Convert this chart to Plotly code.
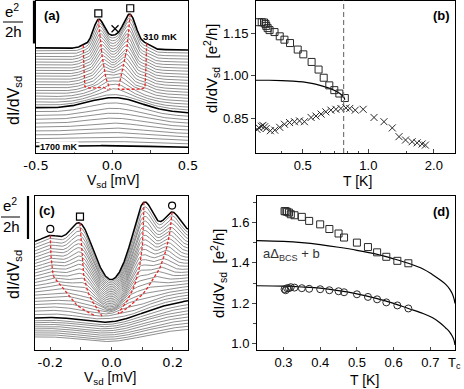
import numpy as np
import plotly.graph_objects as go

W, H = 464, 389

# ======================= Panel (a): waterfall, Vsd [mV] =======================
# one value per curve, top (310 mK) -> bottom (1700 mK); y in units of e^2/2h
A_OFFSET = [2.42, 2.352, 2.284, 2.216, 2.148, 2.08, 2.012, 1.944, 1.876, 1.808,
            1.74, 1.672, 1.604, 1.536, 1.468, 1.40, 1.332, 1.264, 1.196, 1.128,
            1.06, 0.992, 0.907, 0.822, 0.737, 0.652, 0.567, 0.482, 0.397, 0.312,
            0.227, 0.142]
A_SLOPE = [-0.05, -0.05, -0.06, -0.06, -0.07, -0.07, -0.08, -0.08, -0.09, -0.09,
           -0.10, -0.10, -0.10, -0.11, -0.11, -0.11, -0.12, -0.12, -0.12, -0.12,
           -0.12, -0.12, -0.11, -0.10, -0.09, -0.08, -0.07, -0.06, -0.05, -0.04,
           -0.03, -0.02]
A_BUMP = [0.30, 0.30, 0.30, 0.30, 0.30, 0.30, 0.30, 0.30, 0.30, 0.30,
          0.30, 0.30, 0.30, 0.30, 0.30, 0.30, 0.30, 0.30, 0.30, 0.30,
          0.30, 0.30, 0.26, 0.22, 0.19, 0.16, 0.13, 0.10, 0.08, 0.06,
          0.04, 0.03]
A_BUMP_W = [0.10, 0.10, 0.105, 0.105, 0.11, 0.11, 0.115, 0.115, 0.12, 0.12,
            0.125, 0.125, 0.13, 0.13, 0.135, 0.135, 0.14, 0.14, 0.145, 0.15,
            0.16, 0.17, 0.17, 0.17, 0.18, 0.18, 0.18, 0.19, 0.19, 0.20,
            0.20, 0.20]
A_BUMP_V = 0.02
# gap features of the 20 lowest-temperature curves (red dashed lines follow them)
A_PEAK_L = [-0.090, -0.088, -0.085, -0.083, -0.080, -0.078, -0.075, -0.073, -0.070, -0.068,
            -0.065, -0.061, -0.058, -0.054, -0.050, -0.046, -0.040, -0.032, -0.023, -0.013]
A_PEAK_R = [0.120, 0.118, 0.115, 0.112, 0.110, 0.108, 0.105, 0.102, 0.100, 0.097,
            0.092, 0.087, 0.082, 0.077, 0.071, 0.064, 0.059, 0.053, 0.047, 0.041]
A_SHLD_L = [-0.189, -0.189, -0.188, -0.188, -0.187, -0.187, -0.186, -0.185, -0.185, -0.184,
            -0.183, -0.182, -0.181, -0.180, -0.179, -0.178, -0.150, -0.100, -0.055, -0.024]
A_SHLD_R = [0.228, 0.228, 0.227, 0.227, 0.226, 0.226, 0.225, 0.224, 0.223, 0.222,
            0.221, 0.220, 0.219, 0.218, 0.218, 0.217, 0.190, 0.140, 0.097, 0.041]
A_AMP_L = [0.52, 0.50, 0.47, 0.45, 0.42, 0.40, 0.37, 0.35, 0.32, 0.30,
           0.27, 0.25, 0.22, 0.20, 0.17, 0.15, 0.12, 0.10, 0.07, 0.04]
A_AMP_R = [0.63, 0.60, 0.57, 0.54, 0.51, 0.48, 0.45, 0.42, 0.39, 0.36,
           0.33, 0.30, 0.27, 0.24, 0.21, 0.18, 0.15, 0.12, 0.09, 0.05]
A_AMP_SL = [0.04, 0.04, 0.04, 0.04, 0.04, 0.04, 0.035, 0.035, 0.03, 0.03,
            0.03, 0.025, 0.025, 0.02, 0.02, 0.02, 0.015, 0.01, 0.01, 0.0]
A_AMP_SR = [0.09, 0.09, 0.085, 0.085, 0.08, 0.08, 0.075, 0.075, 0.07, 0.07,
            0.065, 0.06, 0.055, 0.05, 0.045, 0.04, 0.03, 0.02, 0.01, 0.0]
A_BOLD = [0, 21, 31]
A_TICKS = [-0.5, 0.0, 0.5]

# ======================= Panel (b): dI/dV vs T (log) =======================
B_SQ_T = [0.315, 0.324, 0.332, 0.337, 0.340, 0.345, 0.352, 0.371, 0.392, 0.412,
          0.437, 0.474, 0.503, 0.549, 0.591, 0.624, 0.662, 0.698, 0.736, 0.780]
B_SQ_G = [1.190, 1.190, 1.189, 1.184, 1.177, 1.169, 1.162, 1.155, 1.140, 1.128,
          1.116, 1.093, 1.076, 1.049, 1.022, 0.993, 0.966, 0.949, 0.937, 0.921]
B_X_T = [0.308, 0.315, 0.323, 0.328, 0.334, 0.340, 0.355, 0.372, 0.392, 0.412,
         0.435, 0.458, 0.483, 0.509, 0.546, 0.575, 0.607, 0.638, 0.673, 0.710,
         0.748, 0.789, 0.822, 0.871, 0.947, 1.062, 1.180, 1.288, 1.383, 1.482,
         1.589, 1.675, 1.766, 1.828]
B_X_G = [0.810, 0.815, 0.821, 0.824, 0.819, 0.813, 0.805, 0.807, 0.817, 0.828,
         0.834, 0.837, 0.840, 0.837, 0.852, 0.857, 0.864, 0.872, 0.878, 0.881,
         0.884, 0.886, 0.884, 0.878, 0.881, 0.852, 0.837, 0.815, 0.784, 0.772,
         0.766, 0.762, 0.758, 0.754]
B_FIT_T = [0.305, 0.35, 0.40, 0.45, 0.50, 0.55, 0.60, 0.65, 0.70, 0.74, 0.77, 0.78]
B_FIT_G = [0.984, 0.984, 0.983, 0.981, 0.978, 0.973, 0.966, 0.958, 0.948, 0.937, 0.925, 0.915]
B_TC = 0.77
B_XTICKS = [0.5, 1.0, 2.0]
B_YTICKS = [0.85, 1.00, 1.15]

# ======================= Panel (c): waterfall, Vsd [mV] =======================
C_OFFSET = [2.635, 2.565, 2.495, 2.425, 2.355, 2.285, 2.215, 2.145, 2.075, 2.005,
            1.935, 1.865, 1.795, 1.725, 1.655, 1.585, 1.515, 1.445, 1.375, 1.305,
            1.235, 1.165, 1.095, 1.025, 0.957, 0.88, 0.82, 0.76, 0.70, 0.64,
            0.58, 0.52, 0.46, 0.40]
C_SLOPE = [0.50, 0.51, 0.52, 0.53, 0.54, 0.55, 0.56, 0.57, 0.58, 0.59,
           0.60, 0.61, 0.62, 0.63, 0.64, 0.65, 0.66, 0.67, 0.68, 0.69,
           0.70, 0.72, 0.74, 0.77, 0.80, 0.75, 0.70, 0.65, 0.60, 0.55,
           0.50, 0.45, 0.40, 0.35]
C_DIP = [1.00, 0.97, 0.94, 0.91, 0.88, 0.85, 0.82, 0.79, 0.76, 0.73,
         0.70, 0.67, 0.64, 0.61, 0.58, 0.55, 0.52, 0.49, 0.46, 0.43,
         0.40, 0.37, 0.34, 0.32, 0.30, 0.28, 0.27, 0.26, 0.25, 0.24,
         0.23, 0.22, 0.21, 0.20]
C_DIP_W = [0.045, 0.046, 0.047, 0.048, 0.049, 0.050, 0.051, 0.052, 0.053, 0.054,
           0.055, 0.057, 0.059, 0.061, 0.063, 0.065, 0.068, 0.071, 0.074, 0.077,
           0.080, 0.084, 0.088, 0.094, 0.10, 0.10, 0.10, 0.10, 0.10, 0.10,
           0.10, 0.10, 0.10, 0.10]
C_SQ_L = [-0.103, -0.102, -0.102, -0.101, -0.100, -0.100, -0.099, -0.098, -0.097, -0.096,
          -0.095, -0.093, -0.091, -0.088, -0.085, -0.080, -0.075, -0.068, -0.060, -0.051,
          -0.044, -0.037, -0.031, -0.027]
C_SQ_R = [0.106, 0.106, 0.105, 0.105, 0.104, 0.104, 0.103, 0.103, 0.102, 0.101,
          0.099, 0.097, 0.095, 0.092, 0.088, 0.083, 0.077, 0.070, 0.061, 0.051,
          0.041, 0.031, 0.021, 0.015]
C_CI_L = [-0.200, -0.200, -0.200, -0.199, -0.199, -0.198, -0.198, -0.197, -0.196, -0.195,
          -0.194, -0.193, -0.191, -0.186, -0.178, -0.168, -0.157, -0.145, -0.135, -0.124,
          -0.113, -0.085, -0.055, -0.040]
C_CI_R = [0.198, 0.197, 0.196, 0.195, 0.193, 0.191, 0.189, 0.187, 0.184, 0.181,
          0.178, 0.174, 0.170, 0.165, 0.159, 0.151, 0.141, 0.130, 0.118, 0.103,
          0.080, 0.055, 0.028, 0.020]
C_A_SQL = [0.44, 0.42, 0.40, 0.38, 0.36, 0.34, 0.33, 0.31, 0.29, 0.27,
           0.25, 0.23, 0.21, 0.19, 0.17, 0.15, 0.13, 0.11, 0.10, 0.08,
           0.06, 0.04, 0.02, 0.01]
C_A_SQR = [0.81, 0.77, 0.74, 0.70, 0.67, 0.63, 0.60, 0.56, 0.53, 0.49,
           0.46, 0.42, 0.39, 0.35, 0.32, 0.28, 0.25, 0.21, 0.18, 0.14,
           0.11, 0.07, 0.04, 0.02]
C_A_CIL = [0.13, 0.13, 0.12, 0.12, 0.11, 0.11, 0.10, 0.10, 0.09, 0.09,
           0.08, 0.08, 0.07, 0.07, 0.06, 0.06, 0.05, 0.04, 0.04, 0.03,
           0.03, 0.02, 0.01, 0.01]
C_A_CIR = [0.47, 0.45, 0.43, 0.41, 0.39, 0.37, 0.35, 0.33, 0.31, 0.29,
           0.27, 0.25, 0.22, 0.20, 0.18, 0.16, 0.14, 0.12, 0.10, 0.08,
           0.06, 0.04, 0.02, 0.01]
C_BOLD = [0, 24]
C_TICKS = [-0.2, 0.0, 0.2]
C_MINOR = [-0.1, 0.1]

# ======================= Panel (d): peak height vs T =======================
D_T = [0.303, 0.306, 0.310, 0.315, 0.320, 0.330, 0.350, 0.370, 0.400, 0.425,
       0.450, 0.465, 0.500, 0.530, 0.555, 0.580, 0.610, 0.640]
D_SQ = [1.655, 1.655, 1.652, 1.648, 1.640, 1.635, 1.627, 1.607, 1.590, 1.567,
        1.545, 1.525, 1.500, 1.478, 1.452, 1.430, 1.410, 1.398]
D_CI = [1.270, 1.265, 1.275, 1.275, 1.280, 1.278, 1.275, 1.272, 1.270, 1.265,
        1.260, 1.255, 1.245, 1.232, 1.220, 1.205, 1.190, 1.175]
D_FIT_T = [0.228, 0.30, 0.35, 0.40, 0.45, 0.50, 0.55, 0.60, 0.64, 0.68,
           0.705, 0.725, 0.741, 0.752, 0.759, 0.764, 0.767]
D_FIT_UP = [1.510, 1.506, 1.500, 1.490, 1.477, 1.462, 1.444, 1.420, 1.398, 1.370,
            1.343, 1.318, 1.295, 1.272, 1.250, 1.225, 1.200]
D_FIT_LO = [1.287, 1.285, 1.281, 1.275, 1.263, 1.247, 1.226, 1.200, 1.175, 1.150,
            1.130, 1.106, 1.080, 1.060, 1.040, 1.020, 0.995]
D_TC = 0.765
D_XTICKS = [0.3, 0.4, 0.5, 0.6, 0.7]
D_YTICKS = [1.0, 1.2, 1.4, 1.6]

# ----------------------------------------------------------------------------
def gauss(v, c, s):
    return np.exp(-(v - c) ** 2 / (2.0 * s * s))

VA = np.linspace(-0.5, 0.5, 401)
VC = np.linspace(-0.25, 0.25, 401)


def curve_a(i, v):
    y = A_OFFSET[i] + A_SLOPE[i] * v + A_BUMP[i] * gauss(v, A_BUMP_V, A_BUMP_W[i])
    if i < len(A_PEAK_L):
        y = (y + A_AMP_L[i] * gauss(v, A_PEAK_L[i], 0.035)
             + A_AMP_R[i] * gauss(v, A_PEAK_R[i], 0.04)
             + A_AMP_SL[i] * gauss(v, A_SHLD_L[i], 0.025)
             + A_AMP_SR[i] * gauss(v, A_SHLD_R[i], 0.03))
    return y


def curve_c(i, v):
    y = C_OFFSET[i] + C_SLOPE[i] * v - C_DIP[i] * gauss(v, 0.0, C_DIP_W[i])
    if i < len(C_SQ_L):
        y = (y + C_A_SQL[i] * gauss(v, C_SQ_L[i], 0.028)
             + C_A_SQR[i] * gauss(v, C_SQ_R[i], 0.028)
             + C_A_CIL[i] * gauss(v, C_CI_L[i], 0.025)
             + C_A_CIR[i] * gauss(v, C_CI_R[i], 0.025))
    return y


fig = go.Figure()
GRAY = "rgb(95,95,95)"
RED = "rgb(235,40,40)"

# ---- panel (a) curves
order = [i for i in range(len(A_OFFSET)) if i not in A_BOLD] + A_BOLD
for i in order:
    bold = i in A_BOLD
    fig.add_trace(go.Scatter(x=VA, y=curve_a(i, VA), mode="lines",
                             line=dict(color="black" if bold else GRAY, width=1.6 if bold else 0.7),
                             xaxis="x", yaxis="y", showlegend=False, hoverinfo="skip"))
for pos in (A_SHLD_L, A_PEAK_L, A_PEAK_R, A_SHLD_R):
    xs = np.array(pos)
    ys = [float(curve_a(k, np.array(pos[k]))) for k in range(len(pos))]
    fig.add_trace(go.Scatter(x=xs, y=ys, mode="lines", line=dict(color=RED, width=1.3, dash="3px,2px"),
                             xaxis="x", yaxis="y", showlegend=False, hoverinfo="skip"))
MK = 0.14
fig.add_trace(go.Scatter(x=[A_PEAK_L[0], A_PEAK_R[0]],
                         y=[float(curve_a(0, np.array(A_PEAK_L[0]))) + MK, float(curve_a(0, np.array(A_PEAK_R[0]))) + MK],
                         mode="markers", marker=dict(symbol="square-open", size=7, color="black", line=dict(width=1.2)),
                         xaxis="x", yaxis="y", showlegend=False))
fig.add_trace(go.Scatter(x=[A_BUMP_V], y=[float(curve_a(0, np.array(A_BUMP_V))) + MK],
                         mode="markers", marker=dict(symbol="x-thin-open", size=7, color="black", line=dict(width=1.2)),
                         xaxis="x", yaxis="y", showlegend=False))

# ---- panel (b)
fig.add_trace(go.Scatter(x=B_FIT_T, y=B_FIT_G, mode="lines", line=dict(color="black", width=1.2, shape="spline"),
                         xaxis="x2", yaxis="y2", showlegend=False))
fig.add_trace(go.Scatter(x=B_SQ_T, y=B_SQ_G, mode="markers",
                         marker=dict(symbol="square-open", size=7, color="rgb(40,40,40)", line=dict(width=1)),
                         xaxis="x2", yaxis="y2", showlegend=False))
fig.add_trace(go.Scatter(x=B_X_T, y=B_X_G, mode="markers",
                         marker=dict(symbol="x-thin-open", size=7, color="rgb(40,40,40)", line=dict(width=1)),
                         xaxis="x2", yaxis="y2", showlegend=False))

# ---- panel (c) curves
order = [i for i in range(len(C_OFFSET)) if i not in C_BOLD] + C_BOLD
for i in order:
    bold = i in C_BOLD
    fig.add_trace(go.Scatter(x=VC, y=curve_c(i, VC), mode="lines",
                             line=dict(color="black" if bold else GRAY, width=1.5 if bold else 0.7),
                             xaxis="x3", yaxis="y3", showlegend=False, hoverinfo="skip"))
NRED = 23
for pos in (C_CI_L, C_SQ_L, C_SQ_R, C_CI_R):
    xs = np.array(pos[:NRED])
    ys = [float(curve_c(k, np.array(pos[k]))) for k in range(NRED)]
    fig.add_trace(go.Scatter(x=xs, y=ys, mode="lines", line=dict(color=RED, width=1.3, dash="3px,2px"),
                             xaxis="x3", yaxis="y3", showlegend=False, hoverinfo="skip"))
MKC = 0.15
fig.add_trace(go.Scatter(x=[C_SQ_L[0], C_SQ_R[0]],
                         y=[float(curve_c(0, np.array(C_SQ_L[0]))) + MKC, float(curve_c(0, np.array(C_SQ_R[0]))) + MKC],
                         mode="markers", marker=dict(symbol="square-open", size=7, color="black", line=dict(width=1.2)),
                         xaxis="x3", yaxis="y3", showlegend=False, cliponaxis=False))
fig.add_trace(go.Scatter(x=[C_CI_L[0], C_CI_R[0]],
                         y=[float(curve_c(0, np.array(C_CI_L[0]))) + MKC, float(curve_c(0, np.array(C_CI_R[0]))) + MKC],
                         mode="markers", marker=dict(symbol="circle-open", size=7, color="black", line=dict(width=1.2)),
                         xaxis="x3", yaxis="y3", showlegend=False, cliponaxis=False))

# ---- panel (d)
fig.add_trace(go.Scatter(x=D_FIT_T, y=D_FIT_UP, mode="lines", line=dict(color="black", width=1.2, shape="spline"),
                         xaxis="x4", yaxis="y4", showlegend=False))
fig.add_trace(go.Scatter(x=D_FIT_T, y=D_FIT_LO, mode="lines", line=dict(color="black", width=1.2, shape="spline"),
                         xaxis="x4", yaxis="y4", showlegend=False))
fig.add_trace(go.Scatter(x=D_T, y=D_SQ, mode="markers",
                         marker=dict(symbol="square-open", size=7, color="rgb(40,40,40)", line=dict(width=1)),
                         xaxis="x4", yaxis="y4", showlegend=False))
fig.add_trace(go.Scatter(x=D_T, y=D_CI, mode="markers",
                         marker=dict(symbol="circle-open", size=7, color="rgb(40,40,40)", line=dict(width=1)),
                         xaxis="x4", yaxis="y4", showlegend=False))

# ----------------------------------------------------------------------------
def px(x):
    return x / W


def py(y):
    return 1 - y / H


A_YR = [0, 152.5 / 43.0]
C_YR = [0, 154.0 / 43.0]
LEFT_TICKFONT = dict(family="DejaVu Sans", size=13, color="black")
RIGHT_TICKFONT = dict(family="Liberation Sans", size=13, color="black")
axis_common = dict(showline=True, linecolor="black", linewidth=1, mirror=True, showgrid=False, zeroline=False)

fig.update_layout(
    template="none", width=W, height=H, margin=dict(l=0, r=0, t=0, b=0),
    paper_bgcolor="white", plot_bgcolor="white", showlegend=False,
    font=dict(family="Liberation Sans", size=13, color="black"),
    xaxis=dict(domain=[px(36), px(188)], range=[-0.5, 0.5], tickvals=A_TICKS, ticktext=["-0.5", "0.0", "0.5"],
               ticks="inside", ticklen=3, tickfont=LEFT_TICKFONT, anchor="y",
               minor=dict(tickvals=[-0.25, 0.25], ticks="inside", ticklen=3), **axis_common),
    yaxis=dict(domain=[py(153), py(0.5)], range=A_YR, showticklabels=False, ticks="", anchor="x", **axis_common),
    xaxis2=dict(domain=[px(256), px(455)], type="log", range=[np.log10(0.305), np.log10(2.5)],
                tickvals=B_XTICKS, ticktext=["0.5", "1.0", "2.0"], ticks="inside", ticklen=4,
                tickfont=RIGHT_TICKFONT, anchor="y2",
                minor=dict(tickvals=[0.4, 0.6, 0.7, 0.8, 0.9, 1.5], ticks="inside", ticklen=2), **axis_common),
    yaxis2=dict(domain=[py(153), py(0.5)], range=[0.726, 1.267], tickvals=B_YTICKS,
                ticktext=["0.85", "1.00", "1.15"], ticks="outside", ticklen=4, tickfont=RIGHT_TICKFONT,
                anchor="x2", **axis_common),
    xaxis3=dict(domain=[px(35), px(188)], range=[-0.25, 0.25], tickvals=C_TICKS, ticktext=["-0.2", "0.0", "0.2"],
                ticks="inside", ticklen=3, tickfont=LEFT_TICKFONT, anchor="y3",
                minor=dict(tickvals=C_MINOR, ticks="inside", ticklen=3), **axis_common),
    yaxis3=dict(domain=[py(350), py(196)], range=C_YR, showticklabels=False, ticks="", anchor="x3", **axis_common),
    xaxis4=dict(domain=[px(257), px(455)], range=[0.228, 0.767], tickvals=D_XTICKS + [D_TC],
                ticktext=["0.3", "0.4", "0.5", "0.6", "0.7", "T<sub>c</sub>"], ticks="inside", ticklen=3,
                tickfont=RIGHT_TICKFONT, anchor="y4", **axis_common),
    yaxis4=dict(domain=[py(350), py(196)], range=[0.97, 1.73], tickvals=D_YTICKS,
                ticktext=["1.0", "1.2", "1.4", "1.6"], ticks="outside", ticklen=4, tickfont=RIGHT_TICKFONT,
                anchor="x4", minor=dict(tickvals=[1.1, 1.3, 1.5, 1.7], ticks="outside", ticklen=3),
                **axis_common),
)

shapes = [
    # scale bars: height = one unit (e^2/2h)
    dict(type="line", xref="paper", yref="y", x0=px(34), x1=px(34), y0=A_YR[1], y1=A_YR[1] - 1.0,
         line=dict(color="black", width=2.2)),
    dict(type="line", xref="paper", yref="y3", x0=px(28), x1=px(28), y0=C_YR[1], y1=C_YR[1] - 1.0,
         line=dict(color="black", width=2.2)),
    # fraction lines of e^2/2h
    dict(type="line", xref="paper", yref="paper", x0=px(3), x1=px(23), y0=py(22), y1=py(22),
         line=dict(color="black", width=1)),
    dict(type="line", xref="paper", yref="paper", x0=px(1), x1=px(20), y0=py(217), y1=py(217),
         line=dict(color="black", width=1)),
    # T_c dashed line in (b)
    dict(type="line", xref="x2", yref="paper", x0=B_TC, x1=B_TC, y0=py(153), y1=py(0.5),
         line=dict(color="rgb(120,120,120)", width=1.2, dash="5px,3px")),
]
fig.update_layout(shapes=shapes)


def ann(text, x, y, size=13, bold=False, angle=0, family="Liberation Sans", bg=None, xanchor="center"):
    d = dict(text=f"<b>{text}</b>" if bold else text, x=px(x), y=py(y), xref="paper", yref="paper",
             showarrow=False, textangle=angle, xanchor=xanchor, yanchor="middle",
             font=dict(family=family, size=size, color="black"))
    if bg:
        d.update(bgcolor=bg, borderpad=0)
    return d


annotations = [
    ann("(a)", 52, 15, 13, True), ann("(b)", 441, 15, 13, True),
    ann("(c)", 47, 210, 13, True), ann("(d)", 441, 212, 13, True),
    ann("310 mK", 160, 37, 9.5, True), ann("1700 mK", 59, 147, 9, True, bg="white"),
    ann("e<sup>2</sup>", 12, 11, 15), ann("2h", 13, 31, 15),
    ann("e<sup>2</sup>", 10, 204, 15), ann("2h", 11, 226, 15),
    ann("dI/dV<sub>sd</sub>", 14, 101, 16, angle=-90),
    ann("dI/dV<sub>sd</sub>", 14, 275, 16, angle=-90),
    ann("dI/dV<sub>sd</sub>  [e<sup>2</sup>/h]", 212, 68, 15, angle=-90),
    ann("dI/dV<sub>sd</sub>  [e<sup>2</sup>/h]", 218, 273, 15, angle=-90),
    ann("V<sub>sd</sub> [mV]", 113, 181, 14), ann("V<sub>sd</sub> [mV]", 110, 378, 14),
    ann("T [K]", 357, 181, 14), ann("T [K]", 364, 380, 14),
]
annotations.append(dict(text="aΔ<sub>BCS</sub> + b", x=0.239, y=1.443, xref="x4", yref="y4", showarrow=False,
                        xanchor="left", yanchor="middle", font=dict(family="Liberation Sans", size=13, color="rgb(50,50,50)")))
fig.update_layout(annotations=annotations)

fig.write_html("out.html", config={"displayModeBar": False},
               post_script="document.body.style.margin='0px';document.body.style.padding='0px';")
